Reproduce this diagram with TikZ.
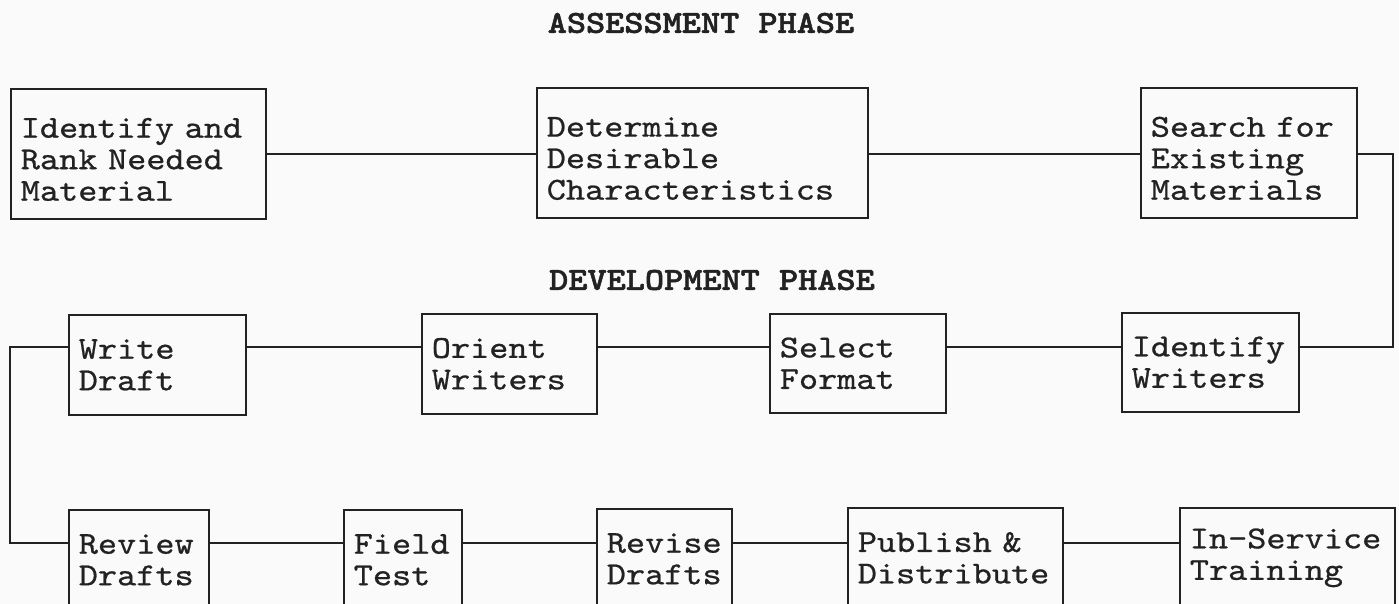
\documentclass[tikz,border=0pt]{standalone}
\usepackage{fontspec}
\newfontfamily\cour{lmmono10-regular.otf}[FakeStretch=1.14,FakeBold=0.7,BoldFont=lmmonolt10-bold.otf,BoldFeatures={FakeBold=1.6}]
\newcommand\topgap{\rule{0pt}{31pt}}
\definecolor{ink}{HTML}{222222}
\definecolor{paper}{HTML}{FAFAFA}
\begin{document}
\begin{tikzpicture}[x=1pt,y=-1pt,
  box/.style={draw=ink,text=ink,line width=1.6pt,rectangle,anchor=north west,
    inner xsep=10pt,inner ysep=0pt,align=left,
    font=\cour\fontsize{32}{31.5}\selectfont},
  conn/.style={draw=ink,line width=1.6pt},
  title/.style={text=ink,inner sep=0pt,font=\cour\bfseries\fontsize{32}{32}\selectfont}]
\clip (0,0) rectangle (1399,604);
\fill[paper] (0,0) rectangle (1399,604);
% titles
\node[title] (t1) at (701,23) {ASSESSMENT PHASE};
\node[title] (t2) at (712,280) {DEVELOPMENT PHASE};
% top row
\node[box,minimum width=255pt,minimum height=130pt,text width=235pt] (a1) at (10,88) {\topgap Identify and\\Rank Needed\\Material};
\node[box,minimum width=331pt,minimum height=130pt,text width=311pt] (a2) at (536,87) {\topgap Determine\\Desirable\\Characteristics};
\node[box,minimum width=216pt,minimum height=130pt,text width=196pt] (a3) at (1140,87) {\topgap Search for\\Existing\\Materials};
% middle row
\node[box,minimum width=177pt,minimum height=100pt,text width=157pt] (m1) at (68,314) {Write\\Draft};
\node[box,minimum width=175pt,minimum height=100pt,text width=155pt] (m2) at (421,313) {Orient\\Writers};
\node[box,minimum width=176pt,minimum height=99pt,text width=156pt] (m3) at (769,313) {Select\\Format};
\node[box,minimum width=177pt,minimum height=99pt,text width=157pt] (m4) at (1121,312) {Identify\\Writers};
% bottom row
\node[box,minimum width=140pt,minimum height=100pt,text width=120pt] (r1) at (68,509) {Review\\Drafts};
\node[box,minimum width=118pt,minimum height=100pt,text width=98pt] (r2) at (343,509) {Field\\Test};
\node[box,minimum width=135pt,minimum height=100pt,text width=115pt] (r3) at (596,508) {Revise\\Drafts};
\node[box,minimum width=215pt,minimum height=100pt,text width=195pt] (r4) at (847,507) {Publish \&\\Distribute};
\node[box,minimum width=215pt,minimum height=100pt,text width=195pt] (r5) at (1179,507) {In-Service\\Training};
% connector levels
\coordinate (yt) at (0,154);
\coordinate (ym) at (0,347);
\coordinate (yb) at (0,543);
\coordinate (xr) at (1393,0);
\coordinate (xl) at (10,0);
% connectors
\draw[conn] (a1.east |- yt) -- (a2.west |- yt);
\draw[conn] (a2.east |- yt) -- (a3.west |- yt);
\draw[conn] (a3.east |- yt) -| (xr |- ym) -- (m4.east |- ym);
\draw[conn] (m4.west |- ym) -- (m3.east |- ym);
\draw[conn] (m3.west |- ym) -- (m2.east |- ym);
\draw[conn] (m2.west |- ym) -- (m1.east |- ym);
\draw[conn] (m1.west |- ym) -| (xl |- yb) -- (r1.west |- yb);
\draw[conn] (r1.east |- yb) -- (r2.west |- yb);
\draw[conn] (r2.east |- yb) -- (r3.west |- yb);
\draw[conn] (r3.east |- yb) -- (r4.west |- yb);
\draw[conn] (r4.east |- yb) -- (r5.west |- yb);
\end{tikzpicture}
\end{document}
